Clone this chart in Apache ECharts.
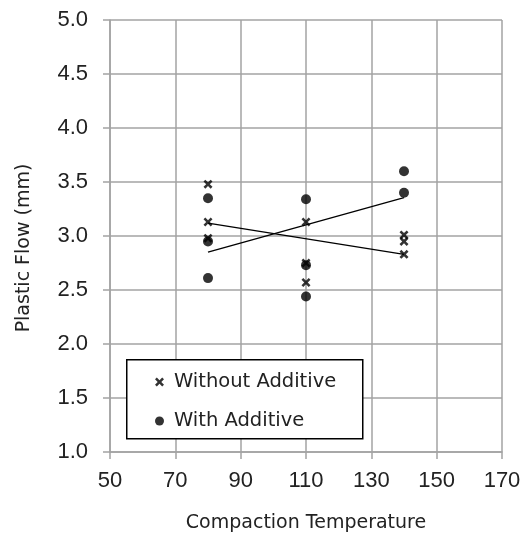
<!DOCTYPE html>
<html lang="en">

<head>
    <meta charset="UTF-8">
    <title>Plastic Flow</title>
    <style type="text/css">
        html, body { margin: 0; padding: 0; background: #fff; }
        #main { width: 525px; height: 538px; }
    </style>
</head>

<body>
    <div id="main"></div>
    <script src="https://cdn.jsdelivr.net/npm/echarts@6/dist/echarts.min.js"></script>
    <script type="text/javascript">
        // data
        var tempsWithout = [80, 80, 80, 110, 110, 110, 140, 140, 140];
        var flowWithout = [3.48, 3.13, 2.98, 3.13, 2.75, 2.57, 3.01, 2.95, 2.83];
        var tempsWith = [80, 80, 80, 110, 110, 110, 140, 140];
        var flowWith = [3.35, 2.95, 2.61, 3.34, 2.73, 2.44, 3.60, 3.40];
        // trend lines (end points)
        var trendX = [80, 140];
        var trendWithout = [3.12, 2.83];
        var trendWith = [2.85, 3.355];

        function pairs(xs, ys) {
            var out = [];
            for (var i = 0; i < xs.length; i++) out.push([xs[i], ys[i]]);
            return out;
        }

        // bold x marker
        var crossPath = 'path://M0,2 L2,0 L5,3 L8,0 L10,2 L7,5 L10,8 L8,10 L5,7 L2,10 L0,8 L3,5 Z';
        var gridColor = '#a3a3a3';
        var tickFont = 'Liberation Sans';
        var textFont = 'DejaVu Sans';

        var chart = echarts.init(document.getElementById('main'));
        var option = {
            animation: false,
            grid: { left: 110, top: 20, right: 23, bottom: 85 },
            graphic: [{
                type: 'rect',
                left: 126, top: 359,
                shape: { width: 236, height: 79 },
                style: { fill: '#fff', stroke: '#000', lineWidth: 1.5 },
                z: 10
            }],
            legend: {
                orient: 'vertical',
                left: 150, top: 367,
                itemGap: 19,
                itemWidth: 9, itemHeight: 9,
                textStyle: { fontFamily: textFont, fontSize: 19.5, color: '#222', padding: [0, 0, 0, 5] },
                data: [
                    { name: 'Without Additive', itemStyle: { color: '#000' } },
                    { name: 'With Additive', itemStyle: { color: '#000' } }
                ],
                z: 11
            },
            xAxis: {
                type: 'value',
                min: 50, max: 170, interval: 20,
                name: 'Compaction Temperature',
                nameLocation: 'middle',
                nameGap: 62,
                nameTextStyle: { fontFamily: textFont, fontSize: 19, color: '#222' },
                axisLine: { lineStyle: { color: gridColor, width: 1.5 } },
                axisTick: { show: true, inside: false, length: 7, lineStyle: { color: gridColor, width: 1.5 } },
                axisLabel: { margin: 18, fontFamily: tickFont, fontSize: 22, color: '#222' },
                splitLine: { show: true, lineStyle: { color: gridColor, width: 1.5 } }
            },
            yAxis: {
                type: 'value',
                min: 1, max: 5, interval: 0.5,
                name: 'Plastic Flow (mm)',
                nameLocation: 'middle',
                nameGap: 76,
                nameTextStyle: { fontFamily: textFont, fontSize: 19, color: '#222', padding: [0, 24, 0, 0] },
                axisLine: { show: true, lineStyle: { color: gridColor, width: 1.5 } },
                axisTick: { show: true, inside: false, length: 7, lineStyle: { color: gridColor, width: 1.5 } },
                axisLabel: {
                    margin: 22, fontFamily: tickFont, fontSize: 22, color: '#222',
                    formatter: function (v) { return v.toFixed(1); }
                },
                splitLine: { show: true, lineStyle: { color: gridColor, width: 1.5 } }
            },
            series: [
                {
                    name: 'Without Additive',
                    type: 'scatter',
                    symbol: crossPath,
                    symbolSize: 9,
                    itemStyle: { color: '#000' },
                    data: pairs(tempsWithout, flowWithout),
                    z: 3
                },
                {
                    name: 'With Additive',
                    type: 'scatter',
                    symbol: 'circle',
                    symbolSize: 10,
                    itemStyle: { color: '#000' },
                    data: pairs(tempsWith, flowWith),
                    z: 2
                },
                {
                    name: 'trendWithout',
                    type: 'line',
                    showSymbol: false,
                    symbol: 'none',
                    lineStyle: { color: '#000', width: 1.3 },
                    data: pairs(trendX, trendWithout),
                    z: 1
                },
                {
                    name: 'trendWith',
                    type: 'line',
                    showSymbol: false,
                    symbol: 'none',
                    lineStyle: { color: '#000', width: 1.3 },
                    data: pairs(trendX, trendWith),
                    z: 1
                }
            ]
        };
        chart.setOption(option);
    </script>
</body>

</html>
